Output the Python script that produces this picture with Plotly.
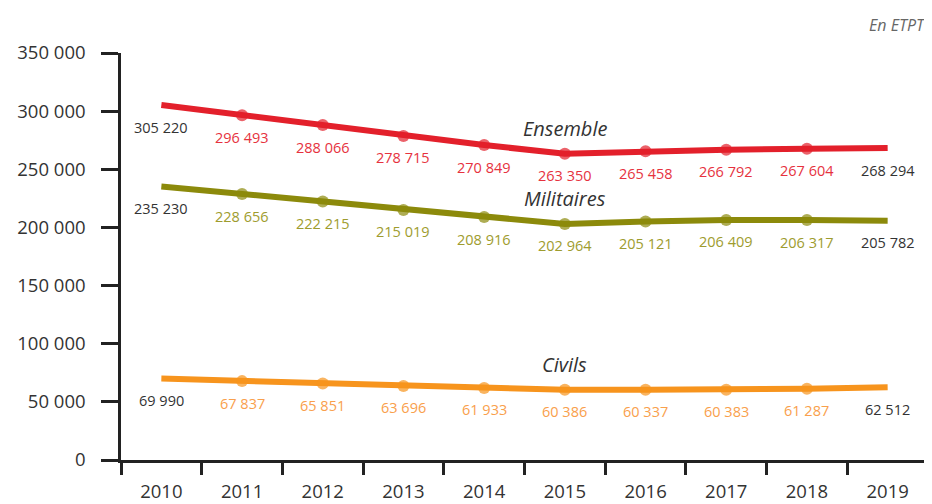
import plotly.graph_objects as go

# Data (effectifs en ETPT)
years = ["2010", "2011", "2012", "2013", "2014", "2015", "2016", "2017", "2018", "2019"]
ensemble = [305220, 296493, 288066, 278715, 270849, 263350, 265458, 266792, 267604, 268294]
militaires = [235230, 228656, 222215, 215019, 208916, 202964, 205121, 206409, 206317, 205782]
civils = [69990, 67837, 65851, 63696, 61933, 60386, 60337, 60383, 61287, 62512]
y_ticks = [0, 50000, 100000, 150000, 200000, 250000, 300000, 350000]

FONT = "Open Sans"
DARK = "#333333"

series = [
    ("Ensemble", ensemble, "#E3202B", "#E6323E"),
    ("Militaires", militaires, "#8C8A0B", "#9E9C2E"),
    ("Civils", civils, "#F7941D", "#F9A04C"),
]


def fmt(v):
    return f"{v:,}".replace(",", " ")


fig = go.Figure()
annotations = []
name_idx = years.index("2015")

for name, values, line_color, label_color in series:
    n = len(values)
    sizes = [0] + [12] * (n - 2) + [0]
    fig.add_trace(
        go.Scatter(
            x=years,
            y=values,
            mode="lines+markers",
            name=name,
            line=dict(color=line_color, width=6),
            marker=dict(color=line_color, size=sizes, line=dict(width=0)),
            hoverinfo="x+y",
        )
    )
    # value labels under each point; first and last in dark grey
    # (category axis: annotation x given as category index)
    for i, v in enumerate(values):
        col = DARK if i in (0, n - 1) else label_color
        annotations.append(dict(
            x=i, y=v, text=fmt(v), showarrow=False,
            yshift=-22, font=dict(family=FONT, size=14.5, color=col),
        ))
    # series name above the 2015 point
    annotations.append(dict(
        x=name_idx, y=values[name_idx], text=f"<i>{name}</i>", showarrow=False,
        yshift=25, font=dict(family=FONT, size=20, color=DARK),
    ))

annotations.append(dict(
    xref="paper", yref="paper", x=1.0, y=1.0, yshift=28,
    xanchor="right", yanchor="middle", text="<i>En ETPT</i>", showarrow=False,
    font=dict(family=FONT, size=16, color="#666666"),
))

# page body has an 8px margin, so the figure is 8px smaller than the window
fig.update_layout(
    width=924,
    height=496,
    margin=dict(l=113, r=4, t=45, b=44),
    paper_bgcolor="white",
    plot_bgcolor="white",
    showlegend=False,
    annotations=annotations,
    font=dict(family=FONT, color=DARK),
)

fig.update_xaxes(
    type="category",
    range=[-0.5, len(years) - 0.5],
    automargin=False,
    tickson="boundaries",
    tickangle=0,
    showgrid=False,
    showline=True,
    linecolor="#222222",
    linewidth=2.5,
    ticks="outside",
    ticklen=12,
    tickwidth=2.5,
    tickcolor="#222222",
    ticklabelstandoff=13,
    tickfont=dict(family=FONT, size=18.5, color=DARK),
)

fig.update_yaxes(
    range=[0, 350000],
    automargin=False,
    tickvals=y_ticks,
    ticktext=[fmt(v) for v in y_ticks],
    showgrid=False,
    zeroline=False,
    showline=True,
    linecolor="#222222",
    linewidth=2.5,
    ticks="outside",
    ticklen=17,
    tickwidth=2.5,
    tickcolor="#222222",
    ticklabelstandoff=12,
    tickfont=dict(family=FONT, size=18.5, color=DARK),
)

fig.write_html("out.html")
